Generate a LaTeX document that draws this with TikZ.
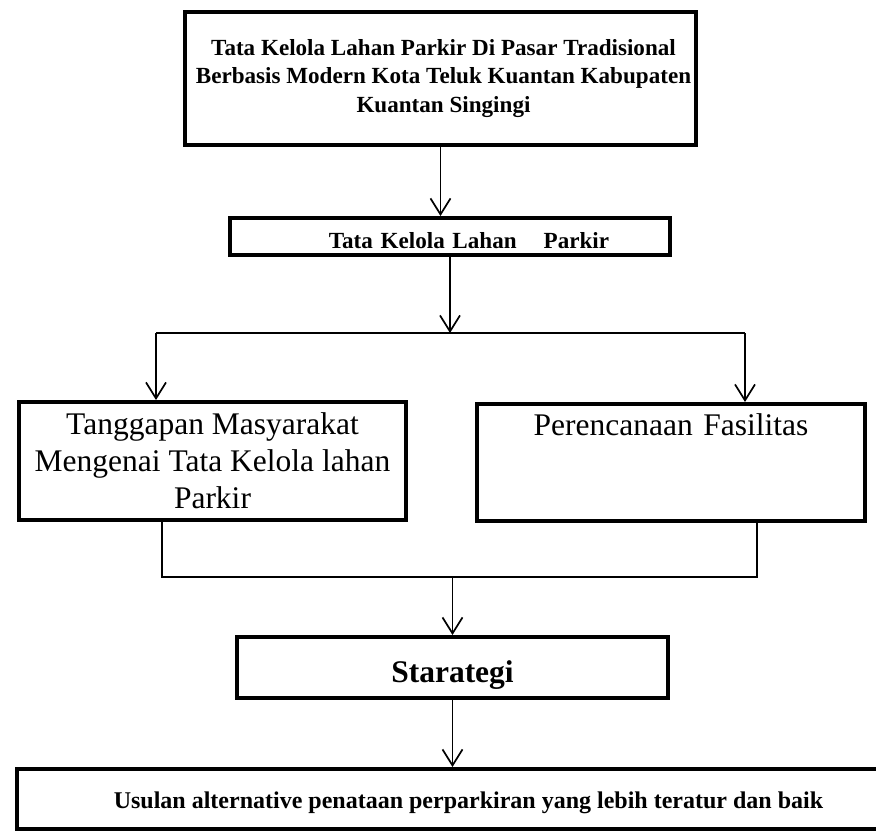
\documentclass[tikz,border=0pt]{standalone}
\usepackage{fontspec}
\setmainfont{Liberation Serif}
\usetikzlibrary{arrows.meta}

\begin{document}
\begin{tikzpicture}[
			x = 1pt, y = -1pt,
			box/.style = {draw, line width = 4pt, inner sep = 0pt, align = center},
			arr/.style = {line width = 1.7pt, -{Straight Barb[length = 16pt, width = 20pt, line width = 1.7pt]}},
			bigbold/.style = {font = \fontsize{23.1}{28.5}\selectfont\bfseries},
			plain/.style = {font = \fontsize{31.5}{37}\selectfont}]

			\useasboundingbox (0,0) rectangle (876,831);

			\node[box, bigbold, minimum width = 511, minimum height = 133] (title) at (440.5,78.5)
				{\hspace{6pt}Tata Kelola Lahan Parkir Di Pasar Tradisional\\\hspace{6pt}Berbasis Modern Kota Teluk Kuantan Kabupaten\\\hspace{6pt}Kuantan Singingi};
			\node[box, bigbold, text width = 440, text height = 30, text depth = 7] (sub) at (450,236.5)
				{\hspace{38pt}Tata Kelola Lahan\hspace{27pt}Parkir};

			\node[box, plain, minimum width = 387, minimum height = 118] (resp) at (212.5,461)
				{Tanggapan Masyarakat\\Mengenai Tata Kelola lahan\\Parkir};
			\node[box, plain, text width = 388, text height = 31, text depth = 86] (plan) at (671,462.5)
				{Perencanaan Fasilitas};

			\node[box, text width = 431, text height = 45, text depth = 16, font = \fontsize{31.5}{37}\selectfont\bfseries] (strat) at (452.5,667.5) {Starategi};
			\node[box, minimum width = 863, text height = 39, text depth = 21, font = \fontsize{24}{28}\selectfont\bfseries] (usul) at (448.5,799)
				{\hspace{40pt}Usulan alternative penataan perparkiran yang lebih teratur dan baik};

			\coordinate (bl) at (156,333);
			\coordinate (br) at (745,333);
			\coordinate (jl) at (162,577);
			\coordinate (jr) at (757,577);

			\draw[arr] (title.south) -- (title.south |- sub.north);
			\draw[arr] (sub.south) -- (sub.south |- bl);
			\draw[line width = 1.7pt] (bl) -- (br);
			\draw[arr] (bl) -- (bl |- resp.north);
			\draw[arr] (br) -- (br |- plan.north);

			\draw[line width = 1.7pt] (jl |- resp.south) -- (jl) -- (jr) -- (jr |- plan.south);
			\draw[arr] (strat.north |- jl) -- (strat.north);
			\draw[arr] (strat.south) -- (strat.south |- usul.north);

		\end{tikzpicture}
\end{document}
